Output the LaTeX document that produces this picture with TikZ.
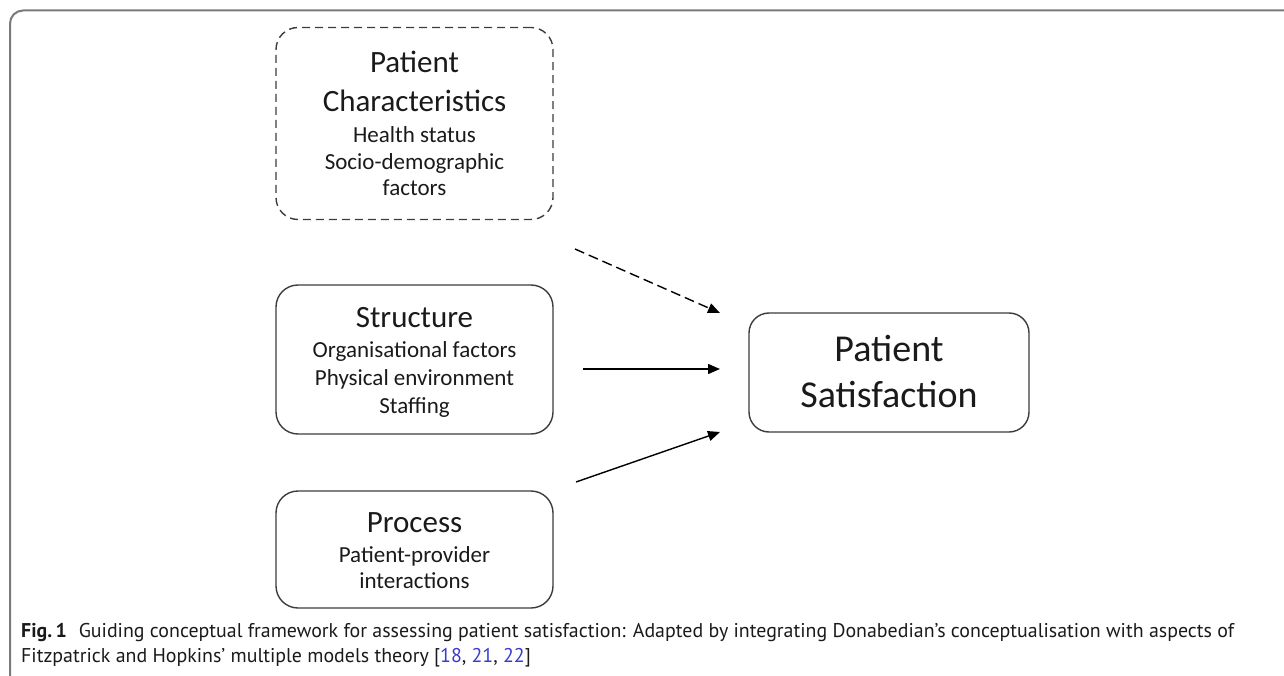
\documentclass[tikz,border=0pt]{standalone}
\usepackage{fontspec}
\setmainfont{Carlito}
\newfontfamily\capfont{PT Sans}
\usetikzlibrary{arrows.meta}
\definecolor{boxline}{HTML}{3C3C3C}
\definecolor{frameline}{HTML}{7A7A7A}
\definecolor{txt}{HTML}{1A1A1A}
\definecolor{citeblue}{HTML}{3A3AD0}
\tikzset{
 box/.style={draw=boxline, line width=1.4pt, rounded corners=22pt, inner sep=0pt},
 titletext/.style={anchor=base, font=\fontsize{31}{31}\selectfont, text=txt, inner sep=0pt},
 bigtext/.style={anchor=base, font=\fontsize{38}{38}\selectfont, text=txt, inner sep=0pt},
 subtext/.style={anchor=base, font=\fontsize{23}{23}\selectfont, text=txt, inner sep=0pt},
 conn/.style={draw=black, line width=1.4pt, -{Triangle[length=12pt,width=10pt]}},
 captext/.style={anchor=base west, font=\capfont\fontsize{19.9}{19.9}\selectfont, text=txt, inner sep=0pt},
}
\begin{document}
\begin{tikzpicture}[x=1pt,y=-1pt]
\useasboundingbox (0,0) rectangle (1284,676);
\draw[frameline, line width=2pt, rounded corners=13pt] (1284,10.5) -- (10,10.5) -- (10,676);

% boxes
\node[box, dash pattern=on 8pt off 5pt, minimum width=277pt, minimum height=192pt] (pc) at (414.5,123.5) {};
\node[box, minimum width=277pt, minimum height=149pt] (st) at (414.5,359.5) {};
\node[box, minimum width=277pt, minimum height=117pt] (pr) at (414.5,549.5) {};
\node[box, rounded corners=20pt, minimum width=280pt, minimum height=119pt] (ps) at (889,372.5) {};

% texts
\node[titletext] (pc1) at (414.5,73) {Patient};
\node[titletext] (pc2) at (414.5,112) {Characteristics};
\node[subtext] (pc3) at (414.5,143) {Health status};
\node[subtext] (pc4) at (414.5,170) {Socio-demographic};
\node[subtext] (pc5) at (414.5,196) {factors};

\node[titletext] (st1) at (414.5,327) {Structure};
\node[subtext] (st2) at (414.5,357) {Organisational factors};
\node[subtext] (st3) at (414.5,385) {Physical environment};
\node[subtext] (st4) at (414.5,413) {Staffing};

\node[titletext] (pr1) at (414.5,532) {Process};
\node[subtext] (pr2) at (414.5,562) {Patient-provider};
\node[subtext] (pr3) at (414.5,588) {interactions};

\node[bigtext] (ps1) at (889,361) {Patient};
\node[bigtext] (ps2) at (889,407) {Satisfaction};

% connectors
\coordinate (a1s) at (575,249);
\coordinate (a1e) at (720,313);
\coordinate (a2s) at (583,369);
\coordinate (a2e) at (720,369);
\coordinate (a3s) at (576,482);
\coordinate (a3e) at (720,432);
\draw[conn, dash pattern=on 10pt off 5pt] (a1s) -- (a1e);
\draw[conn] (a2s) -- (a2e);
\draw[conn] (a3s) -- (a3e);

% caption
\node[captext] (cap1) at (21,637) {\textbf{Fig.\,1}\hspace{0.6em}Guiding conceptual framework for assessing patient satisfaction: Adapted by integrating Donabedian’s conceptualisation with aspects of};
\node[captext] (cap2) at (21,662) {Fitzpatrick and Hopkins’ multiple models theory [\textcolor{citeblue}{18}, \textcolor{citeblue}{21}, \textcolor{citeblue}{22}]};
\end{tikzpicture}
\end{document}
